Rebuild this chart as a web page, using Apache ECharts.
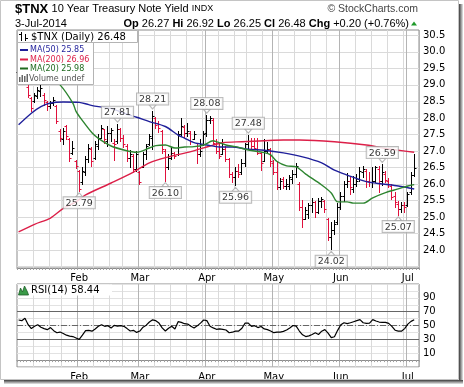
<!DOCTYPE html>
<html>
<head>
<meta charset="utf-8">
<title>$TNX 10 Year Treasury Note Yield</title>
<script src="https://cdn.jsdelivr.net/npm/echarts@6/dist/echarts.min.js"></script>
<style>
html,body{margin:0;padding:0;background:#fff;overflow:hidden;}
#chart{width:464px;height:387px;}
</style>
</head>
<body>
<div id="chart"></div>
<script>
// ---------------- DATA ----------------
const categories = [
 '01-06','01-07','01-08','01-09','01-10','01-13','01-14','01-15','01-16','01-17','01-21','01-22','01-23','01-24','01-27','01-28','01-29','01-30','01-31',
 '02-03','02-04','02-05','02-06','02-07','02-10','02-11','02-12','02-13','02-14','02-18','02-19','02-20','02-21','02-24','02-25','02-26','02-27','02-28',
 '03-03','03-04','03-05','03-06','03-07','03-10','03-11','03-12','03-13','03-14','03-17','03-18','03-19','03-20','03-21','03-24','03-25','03-26','03-27','03-28','03-31',
 '04-01','04-02','04-03','04-04','04-07','04-08','04-09','04-10','04-11','04-14','04-15','04-16','04-17','04-21','04-22','04-23','04-24','04-25','04-28','04-29','04-30',
 '05-01','05-02','05-05','05-06','05-07','05-08','05-09','05-12','05-13','05-14','05-15','05-16','05-19','05-20','05-21','05-22','05-23','05-27','05-28','05-29','05-30',
 '06-02','06-03','06-04','06-05','06-06','06-09','06-10','06-11','06-12','06-13','06-16','06-17','06-18','06-19','06-20','06-23','06-24','06-25','06-26','06-27','06-30',
 '07-01','07-02','07-03'
];
const monthNames = ['Jan','Feb','Mar','Apr','May','Jun','Jul'];
const priceTickLabels = ['24.0','24.5','25.0','25.5','26.0','26.5','27.0','27.5','28.0','28.5','29.0','29.5','30.0','30.5'];
const rsiTickLabels = ['10','30','50','70','90'];

const opens = [
 29.40,29.35,29.15,28.95,28.60,28.50,28.65,28.80,28.70,28.48,
 28.35,28.45,28.35,27.60,27.35,27.75,27.35,26.95,26.70,26.40,
 26.05,26.35,26.75,27.05,26.80,27.15,27.40,27.65,27.30,27.55,
 27.25,27.30,27.65,27.40,27.15,26.80,26.85,26.45,26.35,26.50,
 26.90,27.20,27.40,28.00,27.85,27.60,27.00,26.50,26.80,26.95,
 26.90,27.50,27.72,27.55,27.55,27.35,27.15,26.90,27.20,27.55,
 27.95,27.95,27.30,27.00,26.90,27.05,26.75,26.30,26.20,26.40,
 26.35,26.65,27.20,27.30,27.15,27.05,26.95,26.70,27.00,27.05,
 26.65,26.35,25.90,26.15,25.95,25.95,26.15,26.30,26.00,25.30,
 24.95,25.10,25.35,25.45,25.15,25.50,25.50,24.95,24.40,24.60,
 24.85,25.30,25.65,26.00,26.10,25.85,26.00,26.15,26.35,26.40,
 26.10,26.05,26.10,26.45,26.10,26.30,26.10,25.95,25.65,25.40,
 25.25,25.35,25.35,25.75,26.27
];
const highs = [
 29.55,29.45,29.40,29.05,28.62,28.75,28.95,29.02,28.75,28.52,
 28.50,28.62,28.40,27.65,27.70,27.80,27.40,27.30,26.72,26.42,
 26.50,26.85,27.22,27.12,27.30,27.50,27.80,27.66,27.75,27.70,
 27.35,27.81,27.70,27.48,27.20,27.03,26.90,27.00,26.40,26.97,
 27.22,27.50,28.21,28.02,27.90,27.62,27.05,26.90,27.12,26.98,
 27.60,28.00,27.80,27.85,27.60,27.60,27.20,27.35,27.60,28.08,
 28.05,28.00,27.35,27.20,27.35,27.15,26.80,26.35,26.50,26.60,
 26.75,27.25,27.48,27.40,27.40,27.40,26.97,27.35,27.28,27.10,
 26.72,26.70,26.18,26.20,26.15,26.28,26.42,26.64,26.05,25.52,
 25.30,25.42,25.57,25.50,25.57,25.60,25.52,24.97,24.85,24.91,
 25.42,25.75,26.10,26.33,26.20,26.25,26.30,26.50,26.55,26.45,
 26.35,26.50,26.55,26.55,26.59,26.40,26.18,26.00,25.76,25.50,
 25.45,25.45,25.75,26.35,26.92
];
const lows = [
 29.20,29.05,29.05,28.62,28.22,28.48,28.60,28.65,28.40,28.25,
 28.30,28.40,27.85,27.30,27.20,27.35,26.70,26.90,26.48,25.79,
 26.00,26.28,26.68,26.55,26.75,27.05,27.38,27.25,27.15,27.30,
 26.72,27.25,27.30,27.12,26.70,26.50,26.35,26.40,26.00,26.50,
 26.75,27.18,27.05,27.70,27.58,26.95,26.10,26.45,26.75,26.78,
 26.88,27.45,27.42,27.45,27.20,27.35,26.65,26.85,27.18,27.45,
 27.85,27.20,26.95,26.80,26.90,26.70,26.20,26.05,25.96,26.20,
 26.30,26.55,27.05,27.10,27.05,26.90,26.42,26.70,26.94,26.55,
 26.30,25.85,25.85,25.88,25.85,25.85,26.03,26.21,25.21,24.70,
 24.95,24.97,25.15,25.00,25.12,25.30,25.15,24.30,24.02,24.50,
 24.80,25.25,25.50,25.90,25.70,25.75,25.95,26.10,26.20,25.90,
 25.95,25.90,26.05,25.75,25.98,26.05,25.90,25.55,25.30,25.07,
 25.15,25.15,25.33,25.70,26.25
];
const closes = [
 29.35,29.15,29.30,28.70,28.30,28.68,28.85,28.92,28.55,28.35,
 28.45,28.55,27.90,27.40,27.60,27.45,26.80,27.10,26.55,25.85,
 26.40,26.75,27.10,26.70,27.20,27.40,27.70,27.35,27.55,27.62,
 27.20,27.65,27.40,27.20,26.80,26.90,26.45,26.90,26.05,26.90,
 27.15,27.45,28.05,27.80,27.70,27.05,26.50,26.80,26.95,26.85,
 27.50,27.75,27.55,27.60,27.30,27.50,26.90,27.00,27.50,27.95,
 28.00,27.25,27.00,26.85,27.05,26.75,26.30,26.20,26.40,26.30,
 26.65,27.20,27.30,27.15,27.10,26.95,26.65,27.00,27.05,26.70,
 26.35,25.90,26.10,25.95,26.00,26.20,26.30,26.55,25.30,24.95,
 25.20,25.35,25.45,25.15,25.50,25.55,25.25,24.40,24.60,24.80,
 25.30,25.65,26.00,26.10,25.90,26.00,26.10,26.40,26.45,26.10,
 26.05,26.08,26.50,26.10,26.35,26.12,26.00,25.60,25.45,25.25,
 25.35,25.30,25.70,26.28,26.48
];

const ma50 = [
 ['01-06',27.79],['01-10',28.14],['01-15',28.34],['01-21',28.45],['01-27',28.48],['02-03',28.47],
 ['02-06',28.40],['02-11',28.34],['02-18',28.29],['02-24',28.14],['02-28',28.02],['03-06',27.89],
 ['03-13',27.74],['03-19',27.48],['03-21',27.39],['03-26',27.25],['04-01',27.18],['04-07',27.12],
 ['04-11',27.12],['04-21',27.05],['04-28',27.02],['05-06',26.94],['05-14',26.82],['05-22',26.64],
 ['05-29',26.42],['06-04',26.27],['06-12',26.07],['06-19',26.00],['06-26',25.94],['07-03',25.85]
];
const ma20 = [
 ['01-06',29.75],['01-13',29.55],['01-17',29.30],['01-24',29.00],['01-30',28.45],['01-31',28.20],
 ['02-04',27.92],['02-07',27.55],['02-11',27.38],['02-18',27.15],['02-24',27.03],['02-28',26.96],
 ['03-06',27.09],['03-10',27.16],['03-13',27.18],['03-18',27.09],['03-21',27.12],['03-26',27.13],
 ['03-31',27.18],['04-03',27.31],['04-04',27.28],['04-09',27.18],['04-14',27.13],['04-21',27.03],
 ['04-28',26.95],['04-30',26.88],['05-02',26.68],['05-07',26.55],['05-12',26.52],['05-15',26.30],
 ['05-22',25.97],['05-28',25.73],['05-30',25.46],['06-04',25.46],['06-06',25.42],['06-11',25.42],
 ['06-16',25.58],['06-20',25.74],['06-26',25.85],['07-01',25.94],['07-03',25.98]
];
const ma200 = [
 ['01-06',24.55],['01-13',24.78],['01-21',24.97],['01-27',25.26],['01-31',25.46],['02-05',25.67],
 ['02-18',26.03],['02-27',26.36],['03-06',26.64],['03-14',26.82],['03-25',26.98],['04-02',27.15],
 ['04-08',27.25],['04-16',27.28],['04-28',27.31],['05-06',27.33],['05-13',27.33],['05-29',27.28],
 ['06-12',27.18],['06-23',27.06],['06-27',27.01],['07-03',26.96]
];
const rsi = [
 58,57,60.6,51.2,45.5,48.8,51,47.5,45.5,44,
 47,42.5,39.5,40.5,38.5,36,34.7,34,32,30,
 36,42.5,43,41.8,45,48.8,51.2,48.8,49.8,46.5,
 50.2,49,49.8,48.8,45.5,42,43,40,42,47.5,
 50.5,55,58.2,57,53.5,46.5,42,46,48.8,45,
 55.5,54.5,52.6,52,48.8,46.5,49.5,53.5,58,57,
 49,46.5,44.5,45,44.5,43.5,39.5,40.3,41.8,42,
 46,53.5,53.5,48.8,49.8,47,48.5,45,44,42,
 39.6,40.5,40.4,41.5,43.5,46.5,50,49,42,36.5,
 34,35,37,39.4,37,41.8,44,39,32.5,33.8,
 43,51,54,52.8,54,55.5,57,58.5,54,53,
 53.5,58.5,56.5,55,54.5,54.5,53,48.8,43.2,41.8,
 41.8,45.5,52,56,58.44
];
const peakLabels = [['02-20',27.81],['03-07',28.21],['04-01',28.08],['04-21',27.48],['06-19',26.59]];
const troughLabels = [['02-03',25.79],['03-13',26.10],['04-14',25.96],['05-28',24.02],['06-26',25.07]];

// ---------------- STYLE ----------------
const UP = '#000000', DOWN = '#e0103c';
const C50 = '#1f1f9a', C200 = '#dc1f48', C20 = '#2e8530';
const AXF = 'DejaVu Sans';
const HF = 'Liberation Sans';

const cats = categories.concat(['']);   // one empty slot of right padding
const dates = cats.map(s => s ? new Date(2014, +s.slice(0, 2) - 1, +s.slice(3)) : null);
function isWeekStart(i) {
  if (i <= 0 || !dates[i]) return false;
  return dates[i].getDay() < dates[i - 1].getDay() || (dates[i] - dates[i - 1]) > 4 * 864e5;
}
function isMonthStart(i) {
  if (i <= 0 || !dates[i]) return false;
  return dates[i].getMonth() !== dates[i - 1].getMonth();
}
const monthLabel = v => v ? monthNames[+v.slice(0, 2) - 1] : '';

const L = 17, W = 402;
const last = categories.length - 1;
const lastMA = arr => arr[arr.length - 1][1].toFixed(2);
const chg = closes[last] - closes[last - 1];
const pct = chg / closes[last - 1] * 100;
const sgn = v => (v >= 0 ? '+' : '') + v.toFixed(2);

function frameX(gridIndex, withLabels) {
  return {
    type: 'category', gridIndex, data: cats, boundaryGap: true, position: 'bottom',
    axisLine: { show: true, lineStyle: { color: '#8c8c8c', width: 1 } },
    axisTick: { show: true, interval: 0, length: 2, lineStyle: { color: '#a0a0a0' } },
    splitLine: { show: true, interval: isWeekStart, lineStyle: { color: '#dadada', width: 1 } },
    axisLabel: { show: withLabels, interval: isMonthStart, formatter: monthLabel, color: '#000',
      fontFamily: AXF, fontSize: 10, margin: 5 }
  };
}
function monthX(gridIndex) {
  return {
    type: 'category', gridIndex, data: cats, boundaryGap: true, position: 'bottom',
    axisLine: { show: false }, axisTick: { show: false }, axisLabel: { show: false },
    splitLine: { show: true, interval: isMonthStart, lineStyle: { color: '#b4b4b4', width: 1 } }
  };
}

const option = {
  animation: false,
  backgroundColor: '#ffffff',
  grid: [
    { left: L, width: W, top: 30, height: 238, show: true, borderColor: '#8c8c8c', borderWidth: 1, outerBoundsMode: 'none', containLabel: false },
    { left: L, width: W, top: 35.3, height: 231.3, show: false, outerBoundsMode: 'none', containLabel: false },
    { left: L, width: W, top: 284, height: 83, show: true, borderColor: '#8c8c8c', borderWidth: 1, outerBoundsMode: 'none', containLabel: false }
  ],
  xAxis: [
    frameX(0, true),
    monthX(0),
    { type: 'category', gridIndex: 1, data: cats, boundaryGap: true, show: false },
    frameX(2, true),
    monthX(2)
  ],
  yAxis: [
    { type: 'value', gridIndex: 0, show: false, min: 0, max: 1, splitLine: { show: false } },
    { type: 'value', gridIndex: 1, position: 'right', min: 23.5, max: 30.5, interval: 0.5,
      axisLine: { show: false }, axisTick: { show: false },
      splitLine: { show: true, lineStyle: { color: '#dadada', width: 1 } },
      axisLabel: { margin: 4, color: '#000', fontFamily: AXF, fontSize: 10,
        formatter: v => priceTickLabels.includes(v.toFixed(1)) ? v.toFixed(1) : '' } },
    { type: 'value', gridIndex: 2, position: 'right', min: -10, max: 110, interval: 10,
      axisLine: { show: false }, axisTick: { show: false },
      splitLine: { show: true, lineStyle: { color: '#e2e2e2', width: 1 } },
      axisLabel: { margin: 4, color: '#000', fontFamily: AXF, fontSize: 10,
        formatter: v => rsiTickLabels.includes(String(v)) ? String(v) : '' } }
  ],
  series: [
    {
      name: 'TNX', type: 'custom', xAxisIndex: 2, yAxisIndex: 1, z: 3,
      data: categories.map((c, i) => [i, opens[i], highs[i], lows[i], closes[i]]),
      encode: { x: 0, y: [1, 2, 3, 4] },
      renderItem: function (params, api) {
        const i = api.value(0);
        const pH = api.coord([i, api.value(2)]);
        const pL = api.coord([i, api.value(3)]);
        const pO = api.coord([i, api.value(1)]);
        const pC = api.coord([i, api.value(4)]);
        const x = Math.floor(pH[0]) + 0.5;
        const col = (i > 0 && closes[i] < closes[i - 1]) ? DOWN : UP;
        const yO = Math.round(pO[1]) + 0.5, yC = Math.round(pC[1]) + 0.5;
        return {
          type: 'group', children: [
            { type: 'line', shape: { x1: x, y1: Math.round(pH[1]), x2: x, y2: Math.round(pL[1]) + 1 }, style: { stroke: col, lineWidth: 1 } },
            { type: 'line', shape: { x1: x - 2, y1: yO, x2: x, y2: yO }, style: { stroke: col, lineWidth: 1 } },
            { type: 'line', shape: { x1: x, y1: yC, x2: x + 2, y2: yC }, style: { stroke: col, lineWidth: 1 } }
          ]
        };
      }
    },
    { name: 'MA200', type: 'line', xAxisIndex: 2, yAxisIndex: 1, data: ma200, smooth: 0.3, showSymbol: false, symbol: 'none', z: 4,
      lineStyle: { color: C200, width: 1.4 } },
    { name: 'MA50', type: 'line', xAxisIndex: 2, yAxisIndex: 1, data: ma50, smooth: 0.3, showSymbol: false, symbol: 'none', z: 4,
      lineStyle: { color: C50, width: 1.4 } },
    { name: 'MA20', type: 'line', xAxisIndex: 2, yAxisIndex: 1, data: ma20, smooth: 0.3, showSymbol: false, symbol: 'none', z: 4,
      lineStyle: { color: C20, width: 1.4 } },
    { name: 'peaks', type: 'scatter', xAxisIndex: 2, yAxisIndex: 1, data: peakLabels, z: 10,
      symbol: 'triangle', symbolRotate: 180, symbolSize: [7, 4], symbolOffset: [0, -4],
      itemStyle: { color: '#fff', borderColor: '#a8a8a8', borderWidth: 1 },
      label: { show: true, position: 'top', distance: 0, formatter: p => p.value[1].toFixed(2),
        backgroundColor: '#fff', borderColor: '#a8a8a8', borderWidth: 1, padding: [1, 2, 0, 2],
        fontFamily: AXF, fontSize: 9.5, lineHeight: 10, color: '#000' } },
    { name: 'troughs', type: 'scatter', xAxisIndex: 2, yAxisIndex: 1, data: troughLabels, z: 10,
      symbol: 'triangle', symbolSize: [7, 4], symbolOffset: [0, 4],
      itemStyle: { color: '#fff', borderColor: '#a8a8a8', borderWidth: 1 },
      label: { show: true, position: 'bottom', distance: 0, formatter: p => p.value[1].toFixed(2),
        backgroundColor: '#fff', borderColor: '#a8a8a8', borderWidth: 1, padding: [1, 2, 0, 2],
        fontFamily: AXF, fontSize: 9.5, lineHeight: 10, color: '#000' } },
    { name: 'RSI', type: 'line', xAxisIndex: 3, yAxisIndex: 2, data: rsi, showSymbol: false, symbol: 'none', z: 5,
      lineStyle: { color: '#000', width: 1.2 },
      markLine: { silent: true, symbol: 'none', label: { show: false },
        data: [
          { yAxis: 70, lineStyle: { color: '#666', width: 1, type: 'solid' } },
          { yAxis: 30, lineStyle: { color: '#666', width: 1, type: 'solid' } },
          { yAxis: 50, lineStyle: { color: '#666', width: 1, type: [6, 2, 1, 2] } }
        ] } }
  ],
  graphic: { elements: [
    // outer frame and shadow
    { type: 'rect', shape: { x: 0.5, y: 0.5, width: 458, height: 379 }, style: { fill: 'none', stroke: '#c4c4c4', lineWidth: 1 }, z: 1, silent: true },
    { type: 'rect', shape: { x: 459, y: 4, width: 4, height: 380 }, z: 1, silent: true,
      style: { fill: new echarts.graphic.LinearGradient(0, 0, 1, 0, [{ offset: 0, color: '#3c3c3c' }, { offset: 1, color: '#e8e8e8' }]) } },
    { type: 'rect', shape: { x: 4, y: 380, width: 459, height: 4 }, z: 1, silent: true,
      style: { fill: new echarts.graphic.LinearGradient(0, 0, 0, 1, [{ offset: 0, color: '#3c3c3c' }, { offset: 1, color: '#e8e8e8' }]) } },
    // header
    { type: 'text', x: 15, y: 9, z: 50, silent: true, style: {
      text: '{a|$TNX} {b|10 Year Treasury Note Yield} {c|INDX}', verticalAlign: 'middle',
      rich: { a: { fontFamily: HF, fontSize: 13, fontWeight: 'bold', fill: '#000' },
              b: { fontFamily: HF, fontSize: 11, fill: '#000' },
              c: { fontFamily: HF, fontSize: 9, fill: '#000' } } } },
    { type: 'text', x: 418, y: 9, z: 50, silent: true, style: {
      text: '\u00A9 StockCharts.com', fontFamily: HF, fontSize: 10.5, fill: '#444', align: 'right', verticalAlign: 'middle' } },
    { type: 'text', x: 15, y: 23.5, z: 50, silent: true, style: {
      text: '3-Jul-2014', fontFamily: HF, fontSize: 11, fill: '#000', verticalAlign: 'middle' } },
    { type: 'text', x: 409, y: 23.5, z: 50, silent: true, style: {
      text: '{k|Op} ' + opens[last].toFixed(2) + ' {k|Hi} ' + highs[last].toFixed(2) + ' {k|Lo} ' + lows[last].toFixed(2) +
            ' {k|Cl} ' + closes[last].toFixed(2) + ' {k|Chg} ' + sgn(chg) + ' (' + sgn(pct) + '%)',
      fontFamily: HF, fontSize: 11, fill: '#000', align: 'right', verticalAlign: 'middle',
      rich: { k: { fontFamily: HF, fontSize: 11, fontWeight: 'bold', fill: '#000' } } } },
    { type: 'polygon', shape: { points: [[411, 25.5], [417, 25.5], [414, 21.5]] }, style: { fill: '#1f9a2a' }, z: 50, silent: true },
    // price legend
    { type: 'rect', shape: { x: 17.5, y: 30.5, width: 120, height: 12 }, style: { fill: '#fff', stroke: '#b4b4b4', lineWidth: 1 }, z: 60, silent: true },
    { type: 'rect', shape: { x: 17.5, y: 42.5, width: 76, height: 42 }, style: { fill: '#fff', stroke: '#b4b4b4', lineWidth: 1 }, z: 60, silent: true },
    { type: 'line', shape: { x1: 21.5, y1: 32, x2: 21.5, y2: 41 }, style: { stroke: '#000', lineWidth: 1 }, z: 61, silent: true },
    { type: 'line', shape: { x1: 19, y1: 34.5, x2: 21.5, y2: 34.5 }, style: { stroke: '#000', lineWidth: 1 }, z: 61, silent: true },
    { type: 'line', shape: { x1: 25.5, y1: 34, x2: 25.5, y2: 41 }, style: { stroke: '#000', lineWidth: 1 }, z: 61, silent: true },
    { type: 'line', shape: { x1: 25.5, y1: 38.5, x2: 28, y2: 38.5 }, style: { stroke: '#000', lineWidth: 1 }, z: 61, silent: true },
    { type: 'text', x: 31, y: 37, z: 61, silent: true, style: { text: '$TNX (Daily) ' + closes[last].toFixed(2), fontFamily: AXF, fontSize: 10, fill: '#000', verticalAlign: 'middle' } },
    { type: 'line', shape: { x1: 20, y1: 50, x2: 28, y2: 50 }, style: { stroke: C50, lineWidth: 2 }, z: 61, silent: true },
    { type: 'text', x: 30, y: 50, z: 61, silent: true, style: { text: 'MA(50) ' + lastMA(ma50), fontFamily: AXF, fontSize: 8, fill: C50, verticalAlign: 'middle' } },
    { type: 'line', shape: { x1: 20, y1: 59.5, x2: 28, y2: 59.5 }, style: { stroke: C200, lineWidth: 2 }, z: 61, silent: true },
    { type: 'text', x: 30, y: 59.5, z: 61, silent: true, style: { text: 'MA(200) ' + lastMA(ma200), fontFamily: AXF, fontSize: 8, fill: C200, verticalAlign: 'middle' } },
    { type: 'line', shape: { x1: 20, y1: 68.5, x2: 28, y2: 68.5 }, style: { stroke: '#1f6a1f', lineWidth: 2 }, z: 61, silent: true },
    { type: 'text', x: 30, y: 68.5, z: 61, silent: true, style: { text: 'MA(20) ' + lastMA(ma20), fontFamily: AXF, fontSize: 8, fill: '#1f6a1f', verticalAlign: 'middle' } },
    { type: 'rect', shape: { x: 19, y: 77, width: 1.5, height: 5 }, style: { fill: '#666' }, z: 61, silent: true },
    { type: 'rect', shape: { x: 21.5, y: 75, width: 1.5, height: 7 }, style: { fill: '#666' }, z: 61, silent: true },
    { type: 'rect', shape: { x: 24, y: 76, width: 1.5, height: 6 }, style: { fill: '#666' }, z: 61, silent: true },
    { type: 'rect', shape: { x: 26.5, y: 74, width: 1.5, height: 8 }, style: { fill: '#666' }, z: 61, silent: true },
    { type: 'text', x: 29, y: 78.5, z: 61, silent: true, style: { text: 'Volume undef', fontFamily: AXF, fontSize: 8, fill: '#555', verticalAlign: 'middle' } },
    // RSI legend
    { type: 'rect', shape: { x: 18, y: 284.5, width: 94, height: 11 }, style: { fill: '#fff' }, z: 60, silent: true },
    { type: 'polygon', shape: { points: [[18.5, 295], [20.5, 288], [22.5, 292], [24.5, 286], [27.5, 292], [28.5, 295]] },
      style: { fill: '#3a9a48', stroke: '#1d5e28', lineWidth: 0.8 }, z: 61, silent: true },
    { type: 'text', x: 31, y: 290.5, z: 61, silent: true, style: { text: 'RSI(14) ' + rsi[rsi.length - 1].toFixed(2), fontFamily: AXF, fontSize: 10, fill: '#000', verticalAlign: 'middle' } }
  ] }
};

const chart = echarts.init(document.getElementById('chart'), null, { renderer: 'canvas' });
chart.setOption(option);
</script>
</body>
</html>
